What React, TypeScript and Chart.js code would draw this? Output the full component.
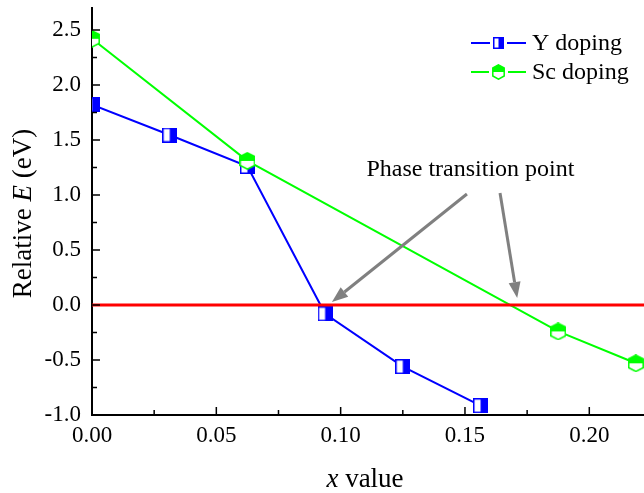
import React, { useEffect, useRef } from "react";
import { Chart, registerables } from "chart.js";

Chart.register(...registerables);

// ---- data ----
const yDopingX = [0, 0.03125, 0.0625, 0.09375, 0.125, 0.15625];
const yDopingE = [1.82, 1.545, 1.26, -0.08, -0.56, -0.915];
const scDopingX = [0, 0.0625, 0.1875, 0.21875];
const scDopingE = [2.42, 1.31, -0.24, -0.53];
const referenceX = [0, 0.222];
const referenceE = [0, 0];
const seriesLabels = ["Y doping", "Sc doping"];
const xTicks = [0, 0.05, 0.1, 0.15, 0.2];
const xMinorTicks = [0.025, 0.075, 0.125, 0.175];
const yTicks = [-1, -0.5, 0, 0.5, 1, 1.5, 2, 2.5];
const yMinorTicks = [-0.75, -0.25, 0.25, 0.75, 1.25, 1.75, 2.25];
const annotationText = "Phase transition point";
const annotationAt = [0.1522, 1.227];
const arrowFromX = [0.1508, 0.1641];
const arrowFromE = [1.009, 1.018];
const arrowToX = [0.0965, 0.171];
const arrowToE = [0.027, 0.064];

const X_MIN = 0;
const X_MAX = 0.222;
const Y_MIN = -1;
const Y_MAX = 2.7;

const FONT = "'Liberation Serif', 'Times New Roman', serif";
const BLUE = "#0000ff";
const GREEN = "#00ff00";
const RED = "#ff0000";
const GRAY = "#808080";

function makeSquare(w: number, h: number): HTMLCanvasElement {
  const c = document.createElement("canvas");
  c.width = w;
  c.height = h;
  const ctx = c.getContext("2d")!;
  ctx.fillStyle = "#ffffff";
  ctx.fillRect(0, 0, w, h);
  ctx.fillStyle = BLUE;
  ctx.fillRect(w / 2, 0, w / 2, h);
  ctx.strokeStyle = BLUE;
  ctx.lineWidth = 1.5;
  ctx.strokeRect(0.75, 0.75, w - 1.5, h - 1.5);
  return c;
}

function makeHex(w: number, h: number): HTMLCanvasElement {
  const c = document.createElement("canvas");
  c.width = w;
  c.height = h;
  const ctx = c.getContext("2d")!;
  const p = 0.8;
  const pts: [number, number][] = [
    [w / 2, p],
    [w - p, h * 0.25],
    [w - p, h * 0.75],
    [w / 2, h - p],
    [p, h * 0.75],
    [p, h * 0.25],
  ];
  const path = () => {
    ctx.beginPath();
    pts.forEach(([x, y], i) => (i ? ctx.lineTo(x, y) : ctx.moveTo(x, y)));
    ctx.closePath();
  };
  path();
  ctx.fillStyle = "#ffffff";
  ctx.fill();
  ctx.save();
  path();
  ctx.clip();
  ctx.fillStyle = GREEN;
  ctx.fillRect(0, 0, w, h / 2);
  ctx.restore();
  path();
  ctx.strokeStyle = GREEN;
  ctx.lineWidth = 1.5;
  ctx.stroke();
  return c;
}

function drawParts(ctx: CanvasRenderingContext2D, parts: [string, boolean][], size: number, cx: number, cy: number) {
  let total = 0;
  const widths = parts.map(([t, it]) => {
    ctx.font = `${it ? "italic " : ""}${size}px ${FONT}`;
    const w = ctx.measureText(t).width;
    total += w;
    return w;
  });
  let x = cx - total / 2;
  parts.forEach(([t, it], i) => {
    ctx.font = `${it ? "italic " : ""}${size}px ${FONT}`;
    ctx.fillText(t, x, cy);
    x += widths[i];
  });
}

export default function App() {
  const ref = useRef<HTMLCanvasElement>(null);

  useEffect(() => {
    const canvas = ref.current!;
    const sq = makeSquare(15, 15);
    const hex = makeHex(16, 18);
    const sqL = makeSquare(11, 12);
    const hexL = makeHex(13, 16);

    const decor = {
      id: "decor",
      afterDraw(chart: any) {
        const ctx = chart.ctx as CanvasRenderingContext2D;
        const xs = chart.scales.x;
        const ys = chart.scales.y;
        const area = chart.chartArea;
        ctx.save();
        // inward ticks
        ctx.strokeStyle = "#000";
        ctx.lineWidth = 1.5;
        ctx.beginPath();
        xTicks.forEach((v) => {
          const px = xs.getPixelForValue(v);
          ctx.moveTo(px, area.bottom);
          ctx.lineTo(px, area.bottom - 8);
        });
        xMinorTicks.forEach((v) => {
          const px = xs.getPixelForValue(v);
          ctx.moveTo(px, area.bottom);
          ctx.lineTo(px, area.bottom - 5);
        });
        yTicks.forEach((v) => {
          const py = ys.getPixelForValue(v);
          ctx.moveTo(area.left, py);
          ctx.lineTo(area.left + 8, py);
        });
        yMinorTicks.forEach((v) => {
          const py = ys.getPixelForValue(v);
          ctx.moveTo(area.left, py);
          ctx.lineTo(area.left + 5, py);
        });
        ctx.stroke();

        // arrows
        ctx.strokeStyle = GRAY;
        ctx.fillStyle = GRAY;
        ctx.lineWidth = 3;
        for (let i = 0; i < arrowFromX.length; i++) {
          const x1 = xs.getPixelForValue(arrowFromX[i]);
          const y1 = ys.getPixelForValue(arrowFromE[i]);
          const x2 = xs.getPixelForValue(arrowToX[i]);
          const y2 = ys.getPixelForValue(arrowToE[i]);
          const ang = Math.atan2(y2 - y1, x2 - x1);
          const hl = 16;
          const hw = 6;
          const bx = x2 - hl * Math.cos(ang);
          const by = y2 - hl * Math.sin(ang);
          ctx.beginPath();
          ctx.moveTo(x1, y1);
          ctx.lineTo(bx, by);
          ctx.stroke();
          ctx.beginPath();
          ctx.moveTo(x2, y2);
          ctx.lineTo(bx + hw * Math.sin(ang), by - hw * Math.cos(ang));
          ctx.lineTo(bx - hw * Math.sin(ang), by + hw * Math.cos(ang));
          ctx.closePath();
          ctx.fill();
        }

        // annotation text
        ctx.fillStyle = "#000";
        ctx.textAlign = "center";
        ctx.textBaseline = "middle";
        ctx.font = `24px ${FONT}`;
        ctx.fillText(annotationText, xs.getPixelForValue(annotationAt[0]), ys.getPixelForValue(annotationAt[1]));

        // legend
        const lx0 = 471;
        const lx1 = 526;
        const rows = [43, 72];
        const lcolors = [BLUE, GREEN];
        const limgs = [sqL, hexL];
        rows.forEach((ry, i) => {
          ctx.strokeStyle = lcolors[i];
          ctx.lineWidth = 2;
          ctx.beginPath();
          ctx.moveTo(lx0, ry);
          ctx.lineTo(lx1, ry);
          ctx.stroke();
          const img = limgs[i];
          ctx.fillStyle = "#fff";
          ctx.fillRect((lx0 + lx1) / 2 - img.width / 2 - 3, ry - img.height / 2, img.width + 6, img.height);
          ctx.drawImage(img, Math.round((lx0 + lx1) / 2 - img.width / 2), Math.round(ry - img.height / 2));
          ctx.fillStyle = "#000";
          ctx.textAlign = "left";
          ctx.textBaseline = "middle";
          ctx.font = `24px ${FONT}`;
          ctx.fillText(seriesLabels[i], 532, ry + 1);
        });

        // axis titles
        ctx.fillStyle = "#000";
        ctx.textAlign = "left";
        ctx.textBaseline = "alphabetic";
        drawParts(ctx, [["x", true], [" value", false]], 27, (area.left + area.right) / 2 - 3, 487);
        ctx.save();
        ctx.translate(31, (area.top + area.bottom) / 2 + 2);
        ctx.rotate(-Math.PI / 2);
        drawParts(ctx, [["Relative ", false], ["E", true], [" (eV)", false]], 27, 0, 0);
        ctx.restore();

        ctx.restore();
      },
    };

    const chart = new Chart(canvas, {
      type: "line",
      data: {
        datasets: [
          {
            label: "E = 0",
            data: referenceX.map((x, i) => ({ x, y: referenceE[i] })),
            borderColor: RED,
            borderWidth: 3,
            pointRadius: 0,
            clip: 0,
          } as any,
          {
            label: seriesLabels[1],
            data: scDopingX.map((x, i) => ({ x, y: scDopingE[i] })),
            borderColor: GREEN,
            borderWidth: 2,
            pointStyle: hex,
            pointRadius: 9,
            clip: 0,
          },
          {
            label: seriesLabels[0],
            data: yDopingX.map((x, i) => ({ x, y: yDopingE[i] })),
            borderColor: BLUE,
            borderWidth: 2,
            pointStyle: sq,
            pointRadius: 8,
            clip: 0,
          },
        ],
      },
      options: {
        animation: false,
        responsive: false,
        maintainAspectRatio: false,
        layout: { autoPadding: false, padding: { top: 8, left: 0, right: 0, bottom: 0 } },
        plugins: { legend: { display: false }, tooltip: { enabled: false } },
        scales: {
          x: {
            type: "linear",
            min: X_MIN,
            max: X_MAX,
            afterBuildTicks: (s: any) => {
              s.ticks = xTicks.map((v) => ({ value: v }));
            },
            afterFit: (s: any) => {
              s.height = 78;
              s.paddingLeft = 0;
              s.paddingRight = 0;
            },
            ticks: {
              callback: (v: any) => Number(v).toFixed(2),
              font: { family: FONT, size: 23 },
              color: "#000",
              padding: 7,
              maxRotation: 0,
              autoSkip: false,
            },
            grid: { display: false, drawTicks: false },
            border: { display: true, color: "#000", width: 2 },
          },
          y: {
            type: "linear",
            min: Y_MIN,
            max: Y_MAX,
            afterBuildTicks: (s: any) => {
              s.ticks = yTicks.map((v) => ({ value: v }));
            },
            afterFit: (s: any) => {
              s.width = 92;
              s.paddingTop = 0;
              s.paddingBottom = 0;
            },
            ticks: {
              callback: (v: any) => Number(v).toFixed(1),
              font: { family: FONT, size: 23 },
              color: "#000",
              padding: 11,
              autoSkip: false,
            },
            grid: { display: false, drawTicks: false },
            border: { display: true, color: "#000", width: 2 },
          },
        },
      },
      plugins: [decor],
    });
    return () => chart.destroy();
  }, []);

  return (
    <div style={{ position: "fixed", left: 0, top: 0, width: 644, height: 493, background: "#fff" }}>
      <canvas ref={ref} width={644} height={493} style={{ width: 644, height: 493, display: "block" }} />
    </div>
  );
}
